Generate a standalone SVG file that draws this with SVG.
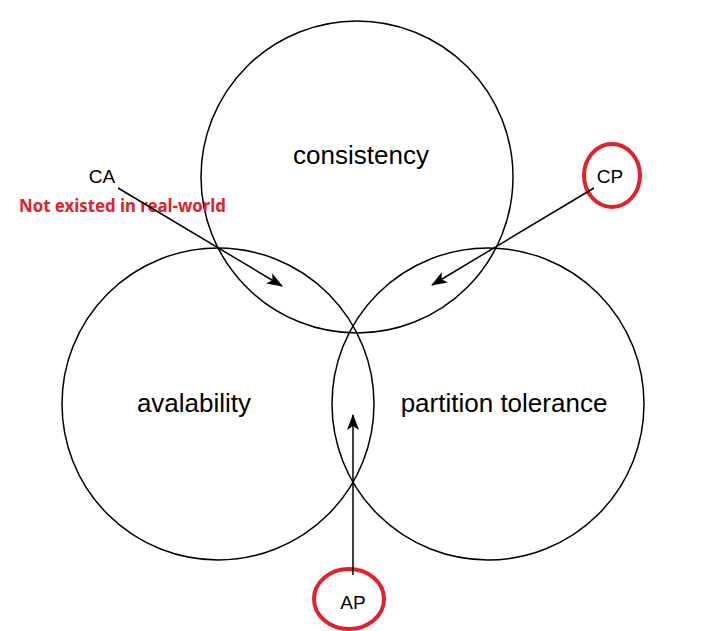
<svg xmlns="http://www.w3.org/2000/svg" width="716" height="631" viewBox="0 0 716 631">
<style>
.set{fill:none;stroke:#000;stroke-width:1.5}
.lbl{font-family:"Liberation Sans",Arial,sans-serif;font-size:26px;fill:#000;text-anchor:middle}
.tag{font-family:"Liberation Sans",Arial,sans-serif;font-size:19px;fill:#000;text-anchor:middle}
.ring{fill:none;stroke:#e3202b;stroke-width:4}
.note{font-family:"Noto Sans","Liberation Sans",sans-serif;font-weight:bold;font-size:17px;fill:#e3202b}
.conn{stroke:#000;stroke-width:1.5;fill:none;marker-end:url(#ah)}
</style>
<defs>
<marker id="ah" viewBox="0 0 16 12" refX="15" refY="6" markerWidth="16" markerHeight="12" markerUnits="userSpaceOnUse" orient="auto">
<path d="M0,0 L16,6 L0,12 L4,6 Z" fill="#000"/>
</marker>
</defs>
<rect width="716" height="631" fill="#fff"/>
<g id="consistency">
<circle class="set" cx="357" cy="177" r="156"/>
<text class="lbl" x="361" y="164">consistency</text>
</g>
<g id="availability">
<circle class="set" cx="218" cy="404" r="156"/>
<text class="lbl" x="194" y="412">avalability</text>
</g>
<g id="partition">
<circle class="set" cx="488" cy="404" r="156"/>
<text class="lbl" x="504" y="412">partition tolerance</text>
</g>
<g id="ca">
<text class="tag" x="102" y="183">CA</text>
<text class="note" x="19" y="212" textLength="207" lengthAdjust="spacingAndGlyphs">Not existed in real-world</text>
</g>
<g id="cp">
<ellipse class="ring" cx="612" cy="175.5" rx="28" ry="31.5"/>
<text class="tag" x="610" y="183">CP</text>
</g>
<g id="ap">
<ellipse class="ring" cx="349" cy="599" rx="35" ry="30"/>
<text class="tag" x="353" y="609">AP</text>
</g>
<g id="connectors">
<line class="conn" x1="118" y1="188" x2="282" y2="286"/>
<line class="conn" x1="594" y1="188" x2="432" y2="285"/>
<line class="conn" x1="353" y1="575" x2="353" y2="415"/>
</g>
</svg>
